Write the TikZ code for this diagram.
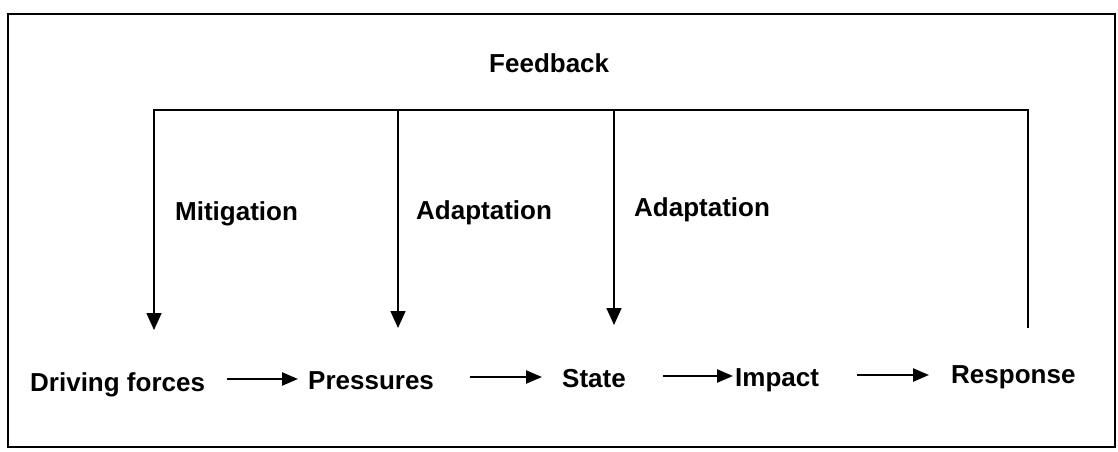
\documentclass[tikz,border=0pt]{standalone}
\usepackage{fontspec}
\setmainfont{Liberation Sans}
\usetikzlibrary{arrows.meta}
\begin{document}
\begin{tikzpicture}[x=1pt,y=1pt,
  lbl/.style={font=\fontsize{26}{30}\selectfont\bfseries, inner sep=0pt, anchor=base west},
  frame/.style={line width=1.6pt},
  down/.style={line width=1.6pt,-{Triangle[length=17pt,width=15pt]}},
  flow/.style={line width=2.4pt,-{Triangle[length=16pt,width=13pt]}}]
\useasboundingbox (0,0) rectangle (1118,451);
\draw[frame] (8,4) rectangle (1115,437);
% labels
\node[lbl] (fb)  at (489,378.3) {Feedback};
\node[lbl] (mit) at (175,230.3) {Mitigation};
\node[lbl] (ad1) at (416,232) {Adaptation};
\node[lbl] (ad2) at (634,235) {Adaptation};
% chain
\node[lbl] (df) at (30,59.5) {Driving forces};
\node[lbl] (pr) at (308,62) {Pressures};
\node[lbl] (st) at (562,64) {State};
\node[lbl] (im) at (735,65) {Impact};
\node[lbl] (re) at (951,68) {Response};
% feedback loop
\coordinate (c1) at (154,341);
\coordinate (c2) at (398,341);
\coordinate (c3) at (614,341);
\coordinate (c4) at (1028,341);
\coordinate (t1) at (154,121);
\coordinate (t2) at (398,123);
\coordinate (t3) at (614,126);
\coordinate (rb) at (1028,123);
\draw[down] (rb) -- (c4) -- (c1) -- (t1);
\draw[down] (c2) -- (t2);
\draw[down] (c3) -- (t3);
% flow arrows
\draw[flow, shorten <=22pt, shorten >=10pt] ([yshift=12.5pt]df.base east) -- ([yshift=10pt]pr.base west);
\draw[flow, shorten <=36pt, shorten >=20pt] ([yshift=12pt]pr.base east) -- ([yshift=10pt]st.base west);
\draw[flow, shorten <=37pt, shorten >=2pt] ([yshift=11pt]st.base east) -- ([yshift=10pt]im.base west);
\draw[flow, shorten <=38pt, shorten >=22pt] ([yshift=11pt]im.base east) -- ([yshift=8pt]re.base west);
\end{tikzpicture}
\end{document}
